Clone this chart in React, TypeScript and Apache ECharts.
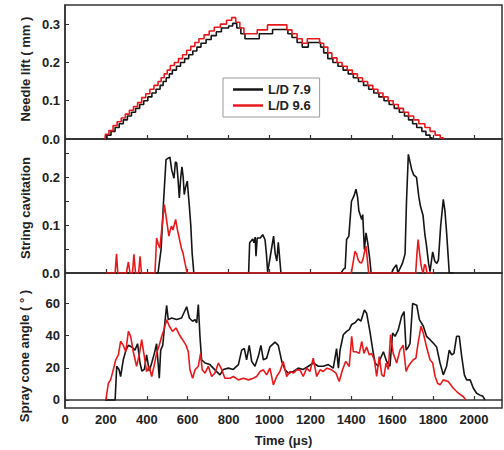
import React, { useEffect, useRef } from "react";
import * as echarts from "echarts";

const seriesNames = ["L/D 7.9", "L/D 9.6"];
const xTickLabels = [0, 200, 400, 600, 800, 1000, 1200, 1400, 1600, 1800, 2000];
const liftTicks = [0, 0.1, 0.2, 0.3];
const cavTicks = [0, 0.1, 0.2];
const cavMinorTicks = [0, 0.05, 0.1, 0.15, 0.2, 0.25];
const angleTicks = [0, 20, 40, 60];

const liftBlack: number[][] = [
  [200, 0], [205, 0.01], [225, 0.02], [245, 0.03], [265, 0.04], [285, 0.05], [305, 0.06], [325, 0.07],
  [345, 0.08], [365, 0.09], [385, 0.1], [405, 0.11], [425, 0.12], [445, 0.13], [465, 0.14], [480, 0.15],
  [495, 0.16], [510, 0.17], [525, 0.18], [545, 0.19], [565, 0.2], [585, 0.21], [605, 0.22], [625, 0.23],
  [645, 0.24], [665, 0.25], [690, 0.26], [715, 0.27], [740, 0.28], [765, 0.29], [800, 0.295], [820, 0.302],
  [840, 0.29], [860, 0.275], [880, 0.262], [950, 0.275], [1015, 0.286], [1090, 0.275], [1110, 0.265],
  [1135, 0.252], [1160, 0.24], [1190, 0.252], [1250, 0.24], [1265, 0.225], [1285, 0.21], [1310, 0.2],
  [1335, 0.19], [1360, 0.18], [1385, 0.17], [1410, 0.16], [1435, 0.15], [1460, 0.14], [1485, 0.13],
  [1510, 0.12], [1535, 0.11], [1560, 0.1], [1585, 0.09], [1610, 0.08], [1635, 0.07], [1660, 0.06],
  [1680, 0.05], [1700, 0.04], [1720, 0.03], [1745, 0.02], [1765, 0.01], [1785, 0.003], [1795, 0],
];
const liftRed: number[][] = [
  [195, 0], [198, 0.012], [215, 0.022], [235, 0.035], [255, 0.045], [275, 0.055], [295, 0.065], [315, 0.075],
  [335, 0.085], [355, 0.095], [375, 0.108], [395, 0.118], [415, 0.13], [435, 0.14], [455, 0.15], [470, 0.16],
  [485, 0.17], [500, 0.18], [515, 0.192], [535, 0.2], [555, 0.21], [575, 0.22], [595, 0.232], [615, 0.242],
  [635, 0.252], [655, 0.262], [680, 0.272], [705, 0.282], [730, 0.292], [760, 0.3], [790, 0.31], [815, 0.317],
  [835, 0.305], [855, 0.29], [875, 0.275], [940, 0.285], [990, 0.298], [1085, 0.285], [1110, 0.275],
  [1135, 0.262], [1160, 0.25], [1185, 0.262], [1245, 0.25], [1265, 0.24], [1285, 0.225], [1305, 0.212],
  [1330, 0.2], [1355, 0.19], [1380, 0.18], [1405, 0.17], [1430, 0.16], [1455, 0.15], [1480, 0.14],
  [1505, 0.13], [1530, 0.12], [1555, 0.11], [1580, 0.1], [1605, 0.09], [1630, 0.08], [1655, 0.07],
  [1680, 0.06], [1705, 0.05], [1730, 0.04], [1760, 0.03], [1785, 0.02], [1810, 0.01], [1835, 0.003], [1850, 0],
];

const cavBlack: number[][] = [
  [200, 0], [455, 0], [470, 0.05], [482, 0.15], [494, 0.237], [505, 0.24], [513, 0.242], [522, 0.215],
  [533, 0.198], [540, 0.232], [546, 0.23], [552, 0.2], [559, 0.157], [566, 0.2], [572, 0.222], [578, 0.2],
  [583, 0.164], [590, 0.18], [598, 0.192], [603, 0.165], [608, 0.14], [615, 0.1], [622, 0.04], [630, 0],
  [898, 0], [903, 0.063], [918, 0.071], [924, 0.063], [930, 0.075], [934, 0.035], [940, 0.073], [955, 0.073],
  [967, 0.08], [978, 0.07], [985, 0.04], [991, 0.002], [1004, 0.035], [1020, 0.077], [1028, 0.04],
  [1036, 0.025], [1043, 0.064], [1050, 0.03], [1056, 0], [1350, 0], [1362, 0.008], [1370, 0.01],
  [1377, 0.07], [1388, 0.077], [1401, 0.15], [1413, 0.161], [1423, 0.175], [1431, 0.158], [1437, 0.13],
  [1443, 0.122], [1451, 0.112], [1456, 0.122], [1464, 0.049], [1472, 0.084], [1480, 0.064], [1490, 0.03],
  [1497, 0], [1597, 0], [1608, 0.01], [1621, 0.017], [1628, 0], [1650, 0.02], [1663, 0.04], [1670, 0.15],
  [1679, 0.248], [1695, 0.217], [1705, 0.205], [1719, 0.2], [1730, 0.16], [1738, 0.14], [1751, 0.12],
  [1760, 0.08], [1767, 0.06], [1778, 0.02], [1785, 0.003], [1798, 0.044], [1808, 0.025], [1818, 0.02],
  [1826, 0.027], [1837, 0.098], [1850, 0.154], [1858, 0.13], [1866, 0.085], [1873, 0.04], [1879, 0], [1900, 0],
];
const cavRed: number[][] = [
  [200, 0], [245, 0], [252, 0.04], [258, 0], [300, 0], [310, 0.023], [318, 0], [330, 0], [337, 0.039],
  [345, 0], [360, 0], [367, 0.035], [374, 0], [440, 0], [448, 0.073], [456, 0.06], [464, 0.052], [475, 0.1],
  [486, 0.143], [497, 0.11], [508, 0.077], [515, 0.09], [521, 0.098], [528, 0.09], [534, 0.1], [541, 0.112],
  [550, 0.09], [560, 0.07], [570, 0.05], [577, 0.042], [587, 0.02], [597, 0], [1400, 0], [1410, 0.025],
  [1418, 0.045], [1426, 0.04], [1434, 0.027], [1442, 0.022], [1450, 0.021], [1458, 0.03], [1467, 0.049],
  [1472, 0.056], [1478, 0.03], [1485, 0], [1715, 0], [1721, 0.04], [1727, 0.07], [1733, 0.045], [1740, 0.02],
  [1745, 0.008], [1752, 0], [1758, 0.018], [1764, 0.015], [1770, 0], [1800, 0],
];

const angleBlack: number[][] = [
  [196, 0], [245, 0], [253, 21], [264, 19], [272, 14.6], [285, 25], [298, 31], [310, 34], [326, 33], [342, 31],
  [355, 35], [367, 23], [376, 18], [388, 19], [399, 28], [412, 18], [424, 23], [437, 29], [448, 35], [461, 13.5],
  [468, 31], [478, 34], [489, 49], [497, 58.8], [505, 50], [522, 51], [546, 50], [570, 51], [595, 58], [608, 51],
  [624, 49], [636, 50], [644, 48], [652, 59.4], [660, 39.6], [668, 25], [685, 23], [709, 22], [733, 18.75],
  [758, 15.6], [774, 19], [799, 19.8], [823, 19], [848, 22], [864, 31], [877, 32], [888, 25], [901, 34],
  [913, 24], [929, 21], [945, 27], [958, 34], [970, 25], [986, 26], [1002, 33], [1027, 36], [1043, 34],
  [1060, 24], [1076, 18.75], [1092, 16.7], [1117, 17.7], [1141, 19.8], [1165, 19], [1190, 21], [1214, 23],
  [1239, 21], [1263, 21], [1288, 22], [1312, 19.8], [1328, 32], [1337, 19.8], [1345, 31], [1361, 40.6],
  [1377, 42.7], [1390, 43.75], [1402, 47], [1418, 48], [1434, 50.4], [1447, 49], [1464, 56], [1475, 54],
  [1491, 42.7], [1504, 32], [1516, 23], [1532, 21], [1540, 25], [1557, 30], [1573, 24], [1589, 21],
  [1602, 41.7], [1614, 39.6], [1630, 43.75], [1646, 52], [1658, 55], [1668, 31], [1679, 33], [1687, 35],
  [1700, 60], [1720, 59], [1733, 50], [1752, 46], [1768, 39.6], [1785, 37.5], [1801, 35.4], [1817, 33],
  [1834, 23], [1850, 15.6], [1866, 21], [1879, 31], [1891, 28], [1902, 29], [1915, 39.6], [1928, 39.6],
  [1940, 27], [1953, 15.6], [1964, 12.5], [1981, 12.5], [1997, 7.3], [2013, 4.2], [2029, 3], [2042, 2.5], [2054, 0],
];
const angleRed: number[][] = [
  [200, 0], [212, 10.4], [223, 12.5], [236, 18.75], [248, 25], [261, 28], [272, 36.5], [285, 34], [297, 30],
  [310, 42.7], [321, 39.6], [334, 30], [350, 21], [363, 28], [375, 37.5], [388, 27], [399, 17.7], [412, 21],
  [424, 14.6], [437, 22], [448, 29], [461, 34], [473, 39.6], [484, 43.75], [497, 50], [510, 46], [526, 42.7],
  [543, 44.8], [559, 40.6], [575, 37.5], [592, 34], [603, 30], [611, 18.75], [624, 13.5], [636, 18.75],
  [652, 21], [663, 29], [671, 18.75], [685, 16.7], [701, 21], [717, 14.6], [733, 16.7], [750, 23], [766, 19],
  [782, 13.5], [807, 13.5], [823, 14.6], [848, 12.5], [872, 13.5], [897, 12.5], [921, 13.5], [937, 14.6],
  [954, 17.7], [970, 18.75], [986, 15.6], [1002, 19.8], [1019, 9.4], [1035, 14.6], [1051, 17.7], [1067, 24],
  [1084, 14.6], [1100, 17.7], [1117, 16.7], [1133, 18.75], [1149, 18.75], [1165, 14.6], [1182, 19.8],
  [1198, 17.7], [1214, 26], [1231, 14.6], [1247, 18.75], [1263, 17.7], [1280, 19.8], [1304, 18.75],
  [1325, 16.7], [1341, 11.5], [1357, 18.75], [1373, 24], [1390, 20.8], [1402, 39.6], [1410, 30], [1423, 30],
  [1439, 29], [1451, 36.5], [1462, 29], [1475, 33], [1488, 28], [1499, 29], [1513, 25], [1524, 14.6],
  [1537, 27], [1549, 15.6], [1560, 14.6], [1570, 23], [1581, 19], [1592, 40.6], [1605, 29], [1622, 23],
  [1638, 31], [1654, 34], [1668, 17.7], [1679, 21], [1690, 23], [1703, 25], [1716, 26], [1728, 36.5],
  [1741, 45.8], [1752, 41.7], [1768, 33], [1785, 25], [1798, 23], [1810, 14.6], [1822, 10.4], [1834, 9.4],
  [1850, 12.5], [1874, 11.5], [1899, 7.3], [1924, 4.2], [1948, 2], [1961, 0],
];

const FONT = "'Liberation Sans', Arial, sans-serif";
const AXIS_COLOR = "#333";
const BLACK = "#151515";
const RED = "#e8191c";

export default function App() {
  const ref = useRef<HTMLDivElement>(null);
  useEffect(() => {
    document.body.style.margin = "0";
    if (!ref.current) return;
    const chart = echarts.init(ref.current, null, { renderer: "svg" });
    const labelStyle = { fontFamily: FONT, fontWeight: "bold" as const, fontSize: 13, color: "#222" };
    const grids = [
      { left: 65, right: 2, top: 5, height: 134 },
      { left: 65, right: 2, top: 139, height: 134 },
      { left: 65, right: 2, top: 273, height: 135 },
    ].map((g) => ({ ...g, show: true, borderColor: AXIS_COLOR, borderWidth: 1.5, backgroundColor: "transparent" }));

    const xAxis = [0, 1, 2].map((i) => ({
      type: "value",
      gridIndex: i,
      min: 0,
      max: 2137,
      interval: 200,
      axisLine: { show: true, lineStyle: { color: AXIS_COLOR, width: 1.5 } },
      axisTick: { show: true, inside: true, length: 4, customValues: xTickLabels, lineStyle: { color: AXIS_COLOR, width: 1.2 } },
      axisLabel: { show: i === 2, customValues: xTickLabels, margin: 5, formatter: (v: number) => String(v), ...labelStyle },
      splitLine: { show: false },
      name: i === 2 ? "Time (\u03bcs)" : "",
      nameLocation: "middle",
      nameGap: 26,
      nameTextStyle: { fontFamily: FONT, fontWeight: "bold", fontSize: 13, color: "#222" },
    }));

    const yBase = (i: number) => ({
      type: "value",
      gridIndex: i,
      axisLine: { show: true, lineStyle: { color: AXIS_COLOR, width: 1.5 } },
      splitLine: { show: false },
    });
    const yAxis = [
      {
        ...yBase(0),
        min: 0,
        max: 0.35,
        axisTick: { show: true, inside: true, length: 4, customValues: liftTicks, lineStyle: { color: AXIS_COLOR } },
        axisLabel: { customValues: liftTicks, margin: 5, formatter: (v: number) => v.toFixed(1), ...labelStyle },
      },
      {
        ...yBase(1),
        min: 0,
        max: 0.28,
        axisTick: { show: true, inside: true, length: 4, customValues: cavMinorTicks, lineStyle: { color: AXIS_COLOR } },
        axisLabel: { customValues: cavTicks, margin: 5, formatter: (v: number) => v.toFixed(1), ...labelStyle },
      },
      {
        ...yBase(2),
        min: -5,
        max: 79,
        axisTick: { show: true, inside: true, length: 4, customValues: angleTicks, lineStyle: { color: AXIS_COLOR } },
        axisLabel: { customValues: angleTicks, margin: 5, formatter: (v: number) => String(Math.round(v)), ...labelStyle },
      },
    ];

    const mk = (name: string, data: number[][], idx: number, color: string, step?: string) => ({
      type: "line",
      name,
      data,
      xAxisIndex: idx,
      yAxisIndex: idx,
      showSymbol: false,
      symbol: "none",
      step: step || false,
      lineStyle: { color, width: 1.6 },
      itemStyle: { color },
      z: color === RED ? 3 : 2,
    });

    const yTitle = (text: string, x: number, y: number) => ({
      type: "text",
      x,
      y,
      rotation: Math.PI / 2,
      style: {
        text,
        fontFamily: FONT,
        fontWeight: "bold",
        fontSize: 13,
        fill: "#222",
        textAlign: "center",
        textVerticalAlign: "middle",
      },
    });

    chart.setOption({
      animation: false,
      backgroundColor: "#fff",
      grid: grids,
      xAxis,
      yAxis,
      legend: {
        data: seriesNames.map((n) => ({ name: n, icon: "rect" })),
        orient: "vertical",
        left: 223,
        top: 78,
        padding: [4, 9, 4, 10],
        itemGap: 1,
        itemWidth: 30,
        itemHeight: 2.5,
        itemTextGap: 6,
        borderColor: "#9a9a9a",
        borderWidth: 1,
        backgroundColor: "#fff",
        textStyle: { fontFamily: FONT, fontWeight: "bold", fontSize: 13, color: "#222", lineHeight: 15 },
      },
      graphic: [
        yTitle("Needle lift ( mm )", 25, 69),
        yTitle("String cavitation", 25, 208),
        yTitle("Spray cone angle ( \u00b0 )", 24, 356),
      ],
      series: [
        mk(seriesNames[0], liftBlack, 0, BLACK, "end"),
        mk(seriesNames[1], liftRed, 0, RED, "end"),
        mk(seriesNames[0], cavBlack, 1, BLACK),
        mk(seriesNames[1], cavRed, 1, RED),
        mk(seriesNames[0], angleBlack, 2, BLACK),
        mk(seriesNames[1], angleRed, 2, RED),
      ],
    });
    return () => chart.dispose();
  }, []);
  return <div ref={ref} style={{ width: 504, height: 450 }} />;
}
